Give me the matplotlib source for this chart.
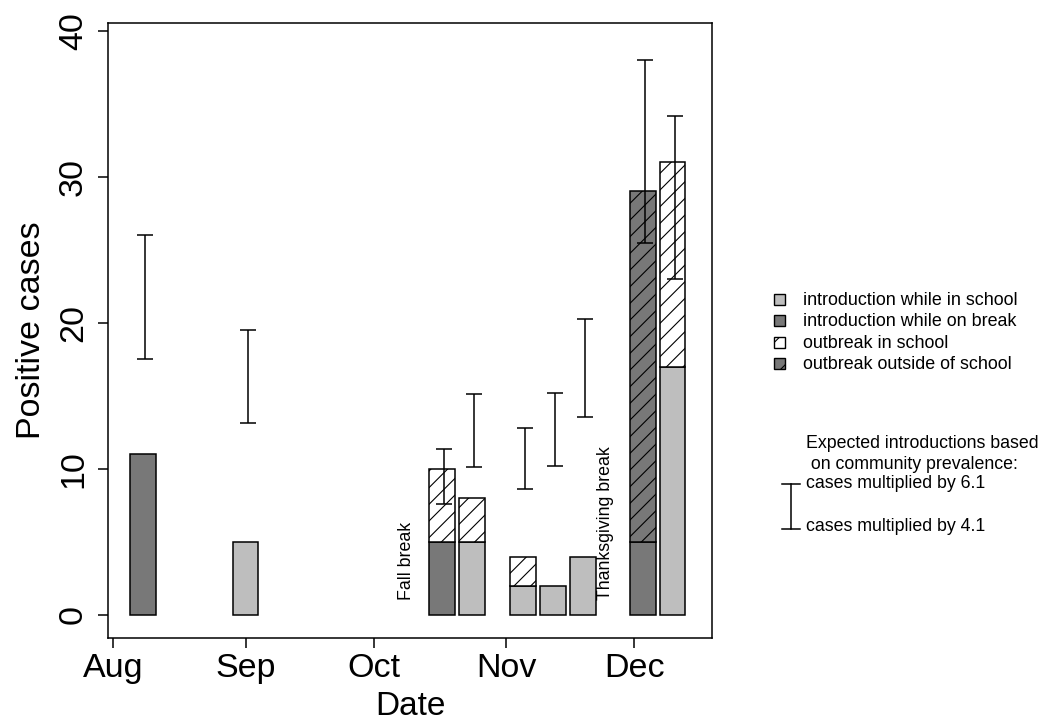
import matplotlib
matplotlib.use('Agg')
import matplotlib.pyplot as plt
import numpy as np
from matplotlib.patches import Rectangle
from matplotlib.lines import Line2D

plt.rcParams['font.family'] = ['Liberation Sans', 'DejaVu Sans']
plt.rcParams['hatch.linewidth'] = 0.8

# x positions are days since Aug 1 (one bar per sampled week)
week_day = [7, 31, 77, 84, 96, 103, 110, 124, 131]
intro_school = [0, 5, 0, 5, 2, 2, 4, 0, 17]
intro_break = [11, 0, 5, 0, 0, 0, 0, 5, 0]
outbreak_school = [0, 0, 5, 3, 2, 0, 0, 0, 14]
outbreak_outside = [0, 0, 0, 0, 0, 0, 0, 24, 0]

# expected introductions: cases x 4.1 (low) and x 6.1 (high)
expected_lo = [17.5, 13.15, 7.6, 10.1, 8.6, 10.2, 13.55, 25.5, 23.0]
expected_hi = [26.0, 19.5, 11.35, 15.1, 12.8, 15.2, 20.25, 38.0, 34.2]

month_days = [0, 31, 61, 92, 122]
month_labels = ['Aug', 'Sep', 'Oct', 'Nov', 'Dec']

light = '#bebebe'
dark = '#787878'
W, H = 1043, 721

fig = plt.figure(figsize=(W / 100, H / 100), dpi=100)
ax = fig.add_axes([107.7 / W, 1 - 637.7 / H, (712.3 - 107.7) / W, (637.7 - 22.7) / H])

x = np.array(week_day, float)
layers = [
    (intro_school, light, None),
    (intro_break, dark, None),
    (outbreak_school, 'white', '//'),
    (outbreak_outside, dark, '//'),
]
bottom = np.zeros(len(x))
for vals, color, hatch in layers:
    v = np.array(vals, float)
    m = v > 0
    ax.bar(x[m], v[m], width=6, bottom=bottom[m], color=color,
           edgecolor='black', linewidth=1.1, hatch=hatch)
    bottom += v

lo = np.array(expected_lo)
hi = np.array(expected_hi)
ax.errorbar(x + 0.5, (lo + hi) / 2, yerr=(hi - lo) / 2, fmt='none',
            ecolor='black', elinewidth=1.1, capsize=6.1, capthick=1.1)

ax.text(68.7, 1.0, 'Fall break', rotation=90, ha='center', va='bottom', fontsize=12.8)
ax.text(115.4, 1.0, 'Thanksgiving break', rotation=90, ha='center', va='bottom', fontsize=12.8)

ax.set_xlim(-1.31, 140.3)
ax.set_ylim(-1.56, 40.56)
ax.set_xticks(month_days)
ax.set_xticklabels(month_labels)
ax.set_yticks([0, 10, 20, 30, 40])
ax.tick_params(direction='out', length=7.4, width=1.1, labelsize=24.5)
ax.tick_params(axis='x', pad=3.8)
ax.tick_params(axis='y', pad=6, labelrotation=90)
for t in ax.get_yticklabels():
    t.set_va('center')
for s in ax.spines.values():
    s.set_linewidth(1.1)
ax.set_xlabel('Date', fontsize=24, labelpad=4.5)
ax.set_ylabel('Positive cases', fontsize=24.5, labelpad=8)


def fx(px):
    return px / W


def fy(py):
    return 1 - py / H


# legend for bar categories
legend_items = [
    ('introduction while in school', light, None),
    ('introduction while on break', dark, None),
    ('outbreak in school', 'white', '//'),
    ('outbreak outside of school', dark, '//'),
]
for i, (label, color, hatch) in enumerate(legend_items):
    cy = 299.5 + i * 21.3
    fig.add_artist(Rectangle((fx(774.3), fy(cy + 5.5)), 11 / W, 11 / H,
                             transform=fig.transFigure, facecolor=color,
                             edgecolor='black', linewidth=1.0, hatch=hatch))
    fig.text(fx(803.0), fy(cy + 1), label, fontsize=12.9, va='center', ha='left')

# key for the expected-introductions bars
fig.text(fx(805.7), fy(443.5), 'Expected introductions based', fontsize=12.8, va='center')
fig.text(fx(805.7), fy(464.5), ' on community prevalence:', fontsize=12.8, va='center')
fig.text(fx(805.7), fy(483.5), 'cases multiplied by 6.1', fontsize=12.8, va='center')
fig.text(fx(805.7), fy(526.5), 'cases multiplied by 4.1', fontsize=12.8, va='center')
for (x0, y0, x1, y1) in [(790.7, 484.3, 790.7, 529), (782.3, 484.3, 800, 484.3),
                         (782.3, 529, 800, 529)]:
    fig.add_artist(Line2D([fx(x0), fx(x1)], [fy(y0), fy(y1)], transform=fig.transFigure,
                          color='black', linewidth=1.1))

fig.savefig('out.png', dpi=100)
